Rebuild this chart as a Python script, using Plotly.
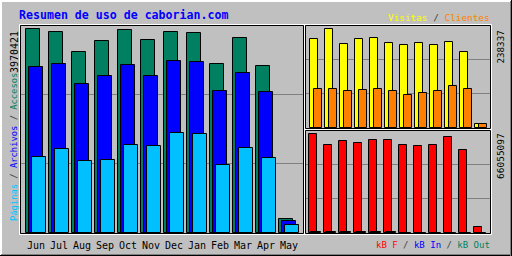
import plotly.graph_objects as go

# ---------------- data ----------------
months = ["Jun", "Jul", "Aug", "Sep", "Oct", "Nov", "Dec", "Jan", "Feb", "Mar", "Apr", "May"]
accesos = [3970421, 3912000, 3522000, 3737000, 3951000, 3756000, 3912000, 3893000, 3288000, 3795000, 3249000, 267000]
archivos = [3230000, 3288000, 2898000, 3054000, 3269000, 3054000, 3347000, 3327000, 2762000, 3113000, 2743000, 228000]
paginas = [1476000, 1632000, 1398000, 1417000, 1709000, 1690000, 1943000, 1924000, 1320000, 1651000, 1456000, 156000]
visitas = [214000, 238337, 201900, 214000, 216400, 204300, 199400, 204300, 199400, 206700, 182400, 9700]
clientes = [94800, 94800, 90000, 92400, 94800, 90000, 80300, 85100, 90000, 102100, 94800, 9700]
kb_f = [66055097, 58462000, 61352000, 60008000, 62023000, 62023000, 58462000, 57790000, 58462000, 63838000, 55304000, 4233000]
kb_in = [800000, 800000, 800000, 800000, 800000, 800000, 0, 0, 0, 0, 0, 0]
kb_out = [600000, 600000, 600000, 600000, 600000, 600000, 0, 0, 0, 0, 0, 0]

max_hits_label = "3970421"
max_visits_label = "238337"
max_kb_label = "66055097"

# ---------------- geometry helpers (pixels) ----------------
W, H = 512, 256
def px(x):
    return x / W
def py(y):
    return 1 - y / H

BG = "#C0C0C0"
GRID = "#808080"
FONT = "DejaVu Sans Mono"

# left panel
L_X0, L_X1, L_Y0, L_Y1 = 20, 303, 25, 233
L_STEP = 23.0
# right panels
R_X0, R_X1 = 305, 490
RT_Y0, RT_Y1 = 25, 128
RB_Y0, RB_Y1 = 130, 233
R_STEP = 15.0

idx = list(range(len(months)))

fig = go.Figure()

def bar(y, color, offset_px, width_px, step, xa, ya):
    return go.Bar(
        x=idx, y=y, offset=offset_px / step, width=width_px / step,
        marker=dict(color=color, line=dict(color="black", width=1)),
        xaxis=xa, yaxis=ya, hoverinfo="skip", showlegend=False,
    )

# left chart
fig.add_trace(bar(accesos, "#008060", 0, 13.4, L_STEP, "x", "y"))
fig.add_trace(bar(archivos, "#0000FF", 3, 13.4, L_STEP, "x", "y"))
fig.add_trace(bar(paginas, "#00C0FF", 6, 13.4, L_STEP, "x", "y"))
# top right chart
fig.add_trace(bar(visitas, "#FFFF00", 1, 8, R_STEP, "x2", "y2"))
fig.add_trace(bar(clientes, "#FF8000", 5, 7.5, R_STEP, "x2", "y2"))
# bottom right chart
fig.add_trace(bar(kb_f, "#FF0000", 0, 8, R_STEP, "x3", "y3"))
fig.add_trace(bar(kb_in, "#0000FF", 2, 8, R_STEP, "x3", "y3"))
fig.add_trace(bar(kb_out, "#008060", 4, 8, R_STEP, "x3", "y3"))

# scales: px per unit derived from the max bars
hits_top = accesos[0] * (L_Y1 - L_Y0) / (L_Y1 - 29.3)
vis_top = visitas[1] * (RT_Y1 - RT_Y0) / (RT_Y1 - 29.3)
kb_top = kb_f[0] * (RB_Y1 - RB_Y0) / (RB_Y1 - 134)

def xaxis(x0, x1, lead_px, step):
    r0 = -lead_px / step
    return dict(domain=[px(x0), px(x1)], range=[r0, r0 + (x1 - x0) / step],
                showticklabels=False, showgrid=False, zeroline=False, ticks="", fixedrange=True)

def yaxis(y0, y1, top, anchor):
    return dict(domain=[py(y1), py(y0)], range=[0, top], tickvals=[top / 3, 2 * top / 3],
                showticklabels=False, showgrid=True, gridcolor=GRID, gridwidth=1,
                zeroline=False, ticks="", anchor=anchor, fixedrange=True)

fig.update_layout(
    width=W, height=H, margin=dict(l=0, r=0, t=0, b=0),
    paper_bgcolor=BG, plot_bgcolor=BG, barmode="overlay", bargap=0,
    xaxis=dict(**xaxis(L_X0, L_X1, 6.3, L_STEP), anchor="y"),
    yaxis=yaxis(L_Y0, L_Y1, hits_top, "x"),
    xaxis2=dict(**xaxis(R_X0, R_X1, 4, R_STEP), anchor="y2"),
    yaxis2=yaxis(RT_Y0, RT_Y1, vis_top, "x2"),
    xaxis3=dict(**xaxis(R_X0, R_X1, 4, R_STEP), anchor="y3"),
    yaxis3=yaxis(RB_Y0, RB_Y1, kb_top, "x3"),
)

shapes = []
def line(x0, y0, x1, y1, color, w=1):
    shapes.append(dict(type="line", xref="paper", yref="paper",
                       x0=px(x0), y0=py(y0), x1=px(x1), y1=py(y1),
                       line=dict(color=color, width=w)))

def frame(x0, y0, x1, y1):
    # white halo outside, black inner outline
    shapes.append(dict(type="rect", xref="paper", yref="paper",
                       x0=px(x0 - 0.5), y0=py(y0 - 0.5), x1=px(x1 + 1.5), y1=py(y1 + 1.5),
                       line=dict(color="white", width=1)))
    shapes.append(dict(type="rect", xref="paper", yref="paper",
                       x0=px(x0 + 0.5), y0=py(y0 + 0.5), x1=px(x1 + 0.5), y1=py(y1 + 0.5),
                       line=dict(color="black", width=1)))

frame(L_X0, L_Y0, L_X1, L_Y1)
frame(R_X0, RT_Y0, R_X1, RT_Y1)
frame(R_X0, RB_Y0, R_X1, RB_Y1)

# outer bevel
line(0, 0.5, W, 0.5, "white")
line(0, 1.5, W - 1, 1.5, "white")
line(0.5, 0, 0.5, H, "white")
line(1.5, 0, 1.5, H - 1, "white")
line(0, H - 0.5, W, H - 0.5, "#000000")
line(1, H - 1.5, W, H - 1.5, "#808080")
line(W - 0.5, 0, W - 0.5, H, "#000000")
line(W - 1.5, 1, W - 1.5, H, "#808080")

fig.update_layout(shapes=shapes)

ann = []
def text(x, y, t, size, color="black", xa="left", ya="middle", angle=0, bold=False, xref="paper"):
    ann.append(dict(x=x if xref != "paper" else px(x), y=py(y), xref=xref, yref="paper",
                    text=("<b>%s</b>" % t) if bold else t, showarrow=False,
                    xanchor=xa, yanchor=ya, textangle=angle, borderpad=0,
                    font=dict(family=FONT, size=size, color=color)))

text(18, 15, "Resumen de uso de caborian.com", 11.6, "#0000FF", bold=True)
text(491, 17,
     '<span style="color:#FFFF00">Visitas</span> <span style="color:#404040">/</span> '
     '<span style="color:#FF8000">Clientes</span>', 9.4, xa="right")
text(491, 245,
     '<span style="color:#FF0000">kB F</span> <span style="color:#404040">/</span> '
     '<span style="color:#0000FF">kB In</span> <span style="color:#404040">/</span> '
     '<span style="color:#008060">kB Out</span>', 9.0, xa="right")

# month labels, centred on each group of bars
for i, m in enumerate(months):
    text(i + (6 + 13.4) / 2 / L_STEP, 245, m, 10, xa="center", xref="x")

# vertical labels
text(14, 222,
     '<span style="color:#00C0FF">Páginas</span> <span style="color:#404040">/</span> '
     '<span style="color:#0000FF">Archivos</span> <span style="color:#404040">/</span> '
     '<span style="color:#008060">Accesos</span>', 8.8, xa="center", ya="bottom", angle=-90)
text(14, 30, max_hits_label, 10, xa="center", ya="top", angle=-90)
text(500, 30, max_visits_label, 9.2, xa="center", ya="top", angle=-90)
text(500, 132, max_kb_label, 9.5, xa="center", ya="top", angle=-90)

fig.update_layout(annotations=ann)

fig.write_html("out.html")
